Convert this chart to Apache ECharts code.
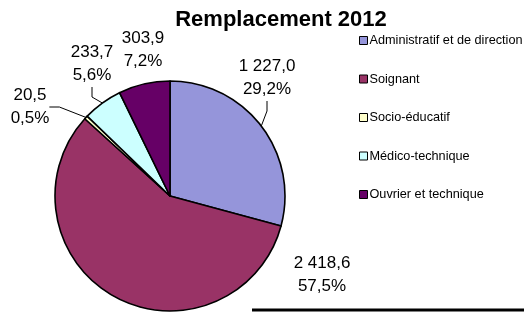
<!DOCTYPE html>
<html lang="fr">
<head>
    <meta charset="UTF-8">
    <title>Remplacement 2012</title>
    <style>
        html, body { margin: 0; padding: 0; width: 100%; height: 100%; background: #fff; }
        #main { width: 524px; height: 312px; }
    </style>
</head>
<body>
    <div id="main"></div>
    <script src="https://cdn.jsdelivr.net/npm/echarts@6/dist/echarts.min.js"></script>
    <script>
        var categories = ['Administratif et de direction', 'Soignant', 'Socio-éducatif', 'Médico-technique', 'Ouvrier et technique'];
        var values = [1227.0, 2418.6, 20.5, 233.7, 303.9];
        var colors = ['#9595DA', '#993366', '#FFFFCC', '#CCFFFF', '#660066'];

        // label placement (offset from pie centre, px) and whether a leader line is drawn
        var labelOffset = [[97, -118], [152, 79], [-140, -89], [-78, -132], [-27, -146]];
        var showLine = [true, false, true, true, false];

        var center = [170, 196];

        function fr(v, digits) {
            var s = v.toFixed(digits).split('.');
            var ent = s[0].replace(/\B(?=(\d{3})+(?!\d))/g, ' ');
            return ent + ',' + s[1];
        }

        var myChart = echarts.init(document.getElementById('main'), null, { renderer: 'canvas' });

        var option = {
            animation: false,
            backgroundColor: '#fff',
            title: {
                text: 'Remplacement 2012',
                left: 276,
                top: 4,
                textAlign: 'center',
                textStyle: { fontFamily: 'Liberation Sans, Arial', fontWeight: 'bold', fontSize: 22, color: '#000' }
            },
            legend: {
                orient: 'vertical',
                left: 354,
                top: 29,
                itemWidth: 8,
                itemHeight: 8,
                itemGap: 25.5,
                icon: 'rect',
                selectedMode: false,
                data: categories,
                itemStyle: { borderColor: '#000', borderWidth: 1 },
                textStyle: { fontFamily: 'Liberation Sans, Arial', fontSize: 12.7, color: '#000', lineHeight: 13, padding: [0, 0, 0, -3] }
            },
            series: [{
                type: 'pie',
                center: center,
                radius: 115,
                startAngle: 90,
                clockwise: true,
                avoidLabelOverlap: false,
                itemStyle: { borderColor: '#000', borderWidth: 1.6 },
                label: {
                    show: true,
                    position: 'outside',
                    fontFamily: 'Liberation Sans, Arial',
                    fontSize: 17,
                    lineHeight: 23,
                    color: '#000',
                    align: 'center',
                    formatter: function (p) {
                        return fr(p.value, 1) + '\n' + fr(p.percent, 1) + '%';
                    }
                },
                labelLine: { show: true, length: 10, length2: 10, lineStyle: { color: '#000', width: 1 } },
                labelLayout: function (p) {
                    var o = labelOffset[p.dataIndex];
                    return {
                        x: center[0] + o[0],
                        y: center[1] + o[1],
                        align: 'center',
                        verticalAlign: 'middle'
                    };
                },
                data: categories.map(function (c, i) {
                    return {
                        name: c,
                        value: values[i],
                        itemStyle: { color: colors[i] },
                        labelLine: { show: showLine[i] }
                    };
                })
            }],
            graphic: [{
                type: 'line',
                shape: { x1: 252, y1: 310, x2: 524, y2: 310 },
                style: { stroke: '#000', lineWidth: 3 }
            }]
        };

        myChart.setOption(option);
    </script>
</body>
</html>
